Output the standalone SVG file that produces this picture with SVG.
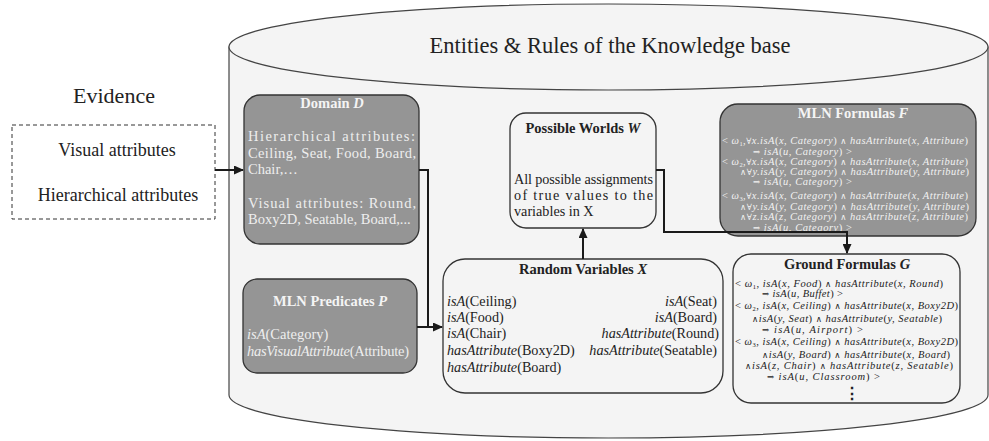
<svg xmlns="http://www.w3.org/2000/svg" width="989" height="441" viewBox="0 0 989 441">
<style>
text{font-family:"Liberation Serif","Times New Roman",serif;}
.big{font-size:22.5px;fill:#222;}
.ev{font-size:18px;fill:#222;text-anchor:middle;}
.dark{fill:#959595;stroke:#333;stroke-width:1.3;}
.light{fill:#f4f4f4;stroke:#333;stroke-width:1.3;}
.th{font-weight:bold;font-size:14.5px;text-anchor:middle;}
.thw{fill:#f4f4f4;}
.thd{fill:#222;}
.bw{font-size:14.5px;fill:#eeeeee;}
.bd{font-size:14.2px;fill:#222;}
.fm{font-size:10.5px;font-style:italic;}
.fw{fill:#f2f2f2;}
.fd{fill:#222;}
.u{font-style:normal;}
.sy{font-style:normal;font-family:"DejaVu Serif",serif;font-size:8.5px;}
.sb{font-size:6.5px;font-style:normal;}
.conn{fill:none;stroke:#1a1a1a;stroke-width:2;}
</style>
<defs>
<marker id="ah" markerUnits="userSpaceOnUse" markerWidth="10" markerHeight="9" refX="9" refY="4.5" orient="auto">
<path d="M0,0 L10,4.5 L0,9 z" fill="#1a1a1a"/>
</marker>
</defs>
<rect width="989" height="441" fill="#ffffff"/>

<g id="knowledge-base">
<path d="M229,47 V395 A379.5,43 0 0 0 988,395 V47 Z" fill="#f4f4f4" stroke="#444" stroke-width="1.2"/>
<ellipse cx="608.5" cy="47" rx="379.5" ry="43" fill="#f4f4f4" stroke="#444" stroke-width="1.2"/>
<text class="big" x="610" y="53" text-anchor="middle">Entities &amp; Rules of the Knowledge base</text>
</g>

<g id="evidence">
<text x="114" y="103" font-size="22" fill="#222" text-anchor="middle">Evidence</text>
<rect x="12" y="125" width="203" height="94" fill="#ffffff" stroke="#333" stroke-width="1" stroke-dasharray="4,3"/>
<text class="ev" x="117" y="156">Visual attributes</text>
<text class="ev" x="118" y="201">Hierarchical attributes</text>
</g>

<g id="domain">
<rect class="dark" x="244" y="95" width="175" height="149" rx="16"/>
<text class="th thw" x="332" y="108" font-size="13">Domain <tspan font-style="italic">D</tspan></text>
<text class="bw" x="248" y="141" textLength="167" lengthAdjust="spacing">Hierarchical attributes:</text>
<text class="bw" x="248" y="158" textLength="168" lengthAdjust="spacing">Ceiling, Seat, Food, Board,</text>
<text class="bw" x="248" y="174">Chair,…</text>
<text class="bw" x="248" y="208" textLength="168" lengthAdjust="spacing">Visual attributes: Round,</text>
<text class="bw" x="248" y="224">Boxy2D, Seatable, Board,...</text>
</g>

<g id="predicates">
<rect class="dark" x="243" y="279" width="174" height="94" rx="14"/>
<text class="th thw" x="330" y="306">MLN Predicates <tspan font-style="italic">P</tspan></text>
<text class="bw" x="247" y="339" font-size="15"><tspan font-style="italic">isA</tspan>(Category)</text>
<text class="bw" x="247" y="356" font-size="15" textLength="162" lengthAdjust="spacing"><tspan font-style="italic">hasVisualAttribute</tspan>(Attribute)</text>
</g>

<g id="possible-worlds">
<rect class="light" x="510" y="113" width="146" height="115" rx="16"/>
<text class="th thd" x="583" y="133">Possible Worlds <tspan font-style="italic">W</tspan></text>
<text class="bd" x="514" y="184" font-size="15" textLength="139" lengthAdjust="spacing">All possible assignments</text>
<text class="bd" x="514" y="200" font-size="15" textLength="139" lengthAdjust="spacing">of true values to the</text>
<text class="bd" x="514" y="216" font-size="15">variables in X</text>
</g>

<g id="random-variables">
<rect class="light" x="443" y="259" width="280" height="134" rx="22"/>
<text class="th thd" x="583" y="274">Random Variables <tspan font-style="italic">X</tspan></text>
<text class="bd" x="447" y="306"><tspan font-style="italic">isA</tspan>(Ceiling)</text>
<text class="bd" x="447" y="322"><tspan font-style="italic">isA</tspan>(Food)</text>
<text class="bd" x="447" y="338"><tspan font-style="italic">isA</tspan>(Chair)</text>
<text class="bd" x="447" y="355"><tspan font-style="italic">hasAttribute</tspan>(Boxy2D)</text>
<text class="bd" x="447" y="372"><tspan font-style="italic">hasAttribute</tspan>(Board)</text>
<text class="bd" x="717" y="306" text-anchor="end"><tspan font-style="italic">isA</tspan>(Seat)</text>
<text class="bd" x="717" y="322" text-anchor="end"><tspan font-style="italic">isA</tspan>(Board)</text>
<text class="bd" x="719" y="338" text-anchor="end"><tspan font-style="italic">hasAttribute</tspan>(Round)</text>
<text class="bd" x="717" y="355" text-anchor="end"><tspan font-style="italic">hasAttribute</tspan>(Seatable)</text>
</g>

<g id="mln-formulas">
<rect class="dark" x="720" y="104" width="256" height="132" rx="18"/>
<text class="th thw" x="853" y="118" font-size="15">MLN Formulas <tspan font-style="italic">F</tspan></text>
<text class="fm fw" x="722" y="144" textLength="246" lengthAdjust="spacing"><tspan class="u">&lt; </tspan>ω<tspan class="sb" dy="2">1</tspan><tspan class="u" dy="-2">,</tspan><tspan class="sy">∀</tspan>x.isA<tspan class="u">(</tspan>x, Category<tspan class="u">) </tspan><tspan class="sy">∧</tspan> hasAttribute<tspan class="u">(</tspan>x, Attribute<tspan class="u">)</tspan></text>
<text class="fm fw" x="753" y="155" textLength="99" lengthAdjust="spacing"><tspan class="sy">⇒</tspan> isA<tspan class="u">(</tspan>u, Category<tspan class="u">) &gt;</tspan></text>
<text class="fm fw" x="722" y="165" textLength="246" lengthAdjust="spacing"><tspan class="u">&lt; </tspan>ω<tspan class="sb" dy="2">2</tspan><tspan class="u" dy="-2">,</tspan><tspan class="sy">∀</tspan>x.isA<tspan class="u">(</tspan>x, Category<tspan class="u">) </tspan><tspan class="sy">∧</tspan> hasAttribute<tspan class="u">(</tspan>x, Attribute<tspan class="u">)</tspan></text>
<text class="fm fw" x="740" y="175" textLength="229" lengthAdjust="spacing"><tspan class="sy">∧∀</tspan>y.isA<tspan class="u">(</tspan>y, Category<tspan class="u">) </tspan><tspan class="sy">∧</tspan> hasAttribute<tspan class="u">(</tspan>y, Attribute<tspan class="u">)</tspan></text>
<text class="fm fw" x="753" y="185" textLength="99" lengthAdjust="spacing"><tspan class="sy">⇒</tspan> isA<tspan class="u">(</tspan>u, Category<tspan class="u">) &gt;</tspan></text>
<text class="fm fw" x="722" y="199" textLength="246" lengthAdjust="spacing"><tspan class="u">&lt; </tspan>ω<tspan class="sb" dy="2">3</tspan><tspan class="u" dy="-2">,</tspan><tspan class="sy">∀</tspan>x.isA<tspan class="u">(</tspan>x, Category<tspan class="u">) </tspan><tspan class="sy">∧</tspan> hasAttribute<tspan class="u">(</tspan>x, Attribute<tspan class="u">)</tspan></text>
<text class="fm fw" x="740" y="210" textLength="229" lengthAdjust="spacing"><tspan class="sy">∧∀</tspan>y.isA<tspan class="u">(</tspan>y, Category<tspan class="u">) </tspan><tspan class="sy">∧</tspan> hasAttribute<tspan class="u">(</tspan>y, Attribute<tspan class="u">)</tspan></text>
<text class="fm fw" x="740" y="220" textLength="228" lengthAdjust="spacing"><tspan class="sy">∧∀</tspan>z.isA<tspan class="u">(</tspan>z, Category<tspan class="u">) </tspan><tspan class="sy">∧</tspan> hasAttribute<tspan class="u">(</tspan>z, Attribute<tspan class="u">)</tspan></text>
<text class="fm fw" x="753" y="231" textLength="99" lengthAdjust="spacing"><tspan class="sy">⇒</tspan> isA<tspan class="u">(</tspan>u, Category<tspan class="u">) &gt;</tspan></text>
</g>

<g id="ground-formulas">
<rect class="light" x="733" y="254" width="227" height="149" rx="18"/>
<text class="th thd" x="847" y="269" font-size="15">Ground Formulas <tspan font-style="italic">G</tspan></text>
<text class="fm fd" x="735" y="287" textLength="208" lengthAdjust="spacing"><tspan class="u">&lt; </tspan>ω<tspan class="sb" dy="2">1</tspan><tspan class="u" dy="-2">, </tspan>isA<tspan class="u">(</tspan>x, Food<tspan class="u">) </tspan><tspan class="sy">∧</tspan> hasAttribute<tspan class="u">(</tspan>x, Round<tspan class="u">)</tspan></text>
<text class="fm fd" x="762" y="297" textLength="81" lengthAdjust="spacing"><tspan class="sy">⇒</tspan> isA<tspan class="u">(</tspan>u, Buffet<tspan class="u">) &gt;</tspan></text>
<text class="fm fd" x="735" y="309" textLength="223" lengthAdjust="spacing"><tspan class="u">&lt; </tspan>ω<tspan class="sb" dy="2">2</tspan><tspan class="u" dy="-2">, </tspan>isA<tspan class="u">(</tspan>x, Ceiling<tspan class="u">) </tspan><tspan class="sy">∧</tspan> hasAttribute<tspan class="u">(</tspan>x, Boxy2D<tspan class="u">)</tspan></text>
<text class="fm fd" x="752" y="322" textLength="190" lengthAdjust="spacing"><tspan class="sy">∧</tspan>isA<tspan class="u">(</tspan>y, Seat<tspan class="u">) </tspan><tspan class="sy">∧</tspan> hasAttribute<tspan class="u">(</tspan>y, Seatable<tspan class="u">)</tspan></text>
<text class="fm fd" x="762" y="333" textLength="101" lengthAdjust="spacing"><tspan class="sy">⇒</tspan> isA<tspan class="u">(</tspan>u, Airport<tspan class="u">) &gt;</tspan></text>
<text class="fm fd" x="735" y="345" textLength="223" lengthAdjust="spacing"><tspan class="u">&lt; </tspan>ω<tspan class="sb" dy="2">3</tspan><tspan class="u" dy="-2">, </tspan>isA<tspan class="u">(</tspan>x, Ceiling<tspan class="u">) </tspan><tspan class="sy">∧</tspan> hasAttribute<tspan class="u">(</tspan>x, Boxy2D<tspan class="u">)</tspan></text>
<text class="fm fd" x="762" y="358" textLength="188" lengthAdjust="spacing"><tspan class="sy">∧</tspan>isA<tspan class="u">(</tspan>y, Board<tspan class="u">) </tspan><tspan class="sy">∧</tspan> hasAttribute<tspan class="u">(</tspan>x, Board<tspan class="u">)</tspan></text>
<text class="fm fd" x="745" y="369" textLength="208" lengthAdjust="spacing"><tspan class="sy">∧</tspan>isA<tspan class="u">(</tspan>z, Chair<tspan class="u">) </tspan><tspan class="sy">∧</tspan> hasAttribute<tspan class="u">(</tspan>z, Seatable<tspan class="u">)</tspan></text>
<text class="fm fd" x="767" y="380" textLength="113" lengthAdjust="spacing"><tspan class="sy">⇒</tspan> isA<tspan class="u">(</tspan>u, Classroom<tspan class="u">) &gt;</tspan></text>
<text x="852" y="399" font-size="16" font-weight="bold" fill="#222" text-anchor="middle">⋮</text>
</g>

<g id="connectors">
<path class="conn" d="M215,170 H243" marker-end="url(#ah)"/>
<path class="conn" d="M419,170 H428 V327 H442" marker-end="url(#ah)"/>
<path class="conn" d="M417,327 H428"/>
<path class="conn" d="M583,259 V229" marker-end="url(#ah)"/>
<path class="conn" d="M656,170 H664 V232 H847 V253" marker-end="url(#ah)"/>
<path class="conn" d="M847,236 V245"/>
</g>
</svg>
